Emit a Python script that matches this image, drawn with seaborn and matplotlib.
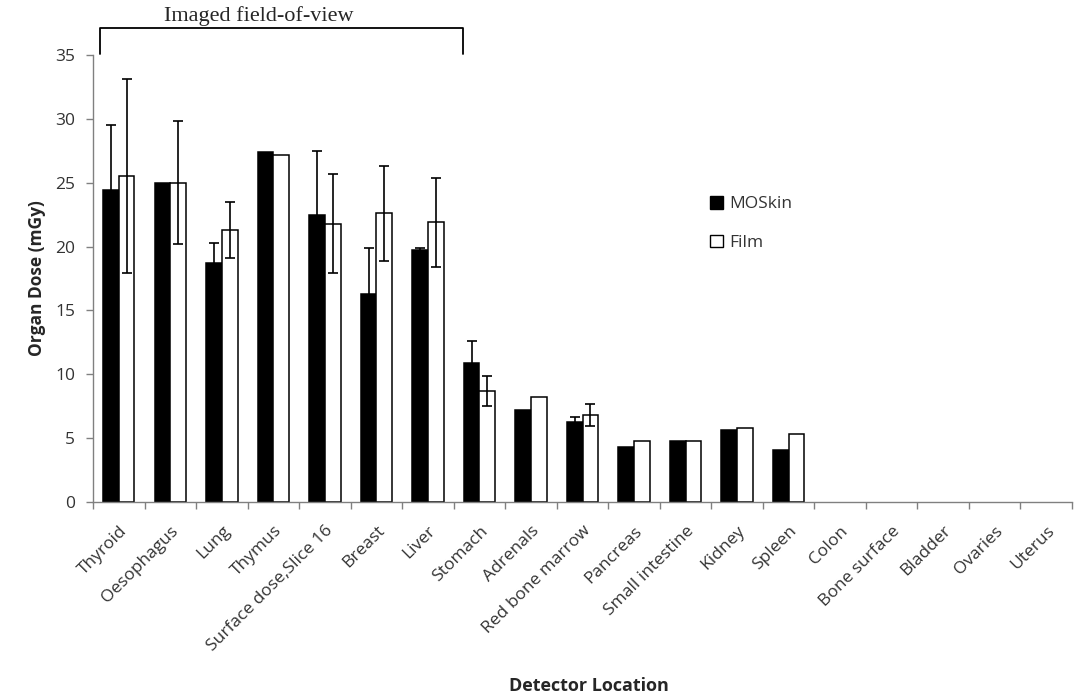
import numpy as np
import pandas as pd
import seaborn as sns
import matplotlib.pyplot as plt
from matplotlib.patches import Patch

organs = [
    "Thyroid", "Oesophagus", "Lung", "Thymus", "Surface dose,Slice 16",
    "Breast", "Liver", "Stomach", "Adrenals", "Red bone marrow", "Pancreas",
    "Small intestine", "Kidney", "Spleen", "Colon", "Bone surface",
    "Bladder", "Ovaries", "Uterus",
]
nan = np.nan
moskin = [24.4, 25.0, 18.7, 27.4, 22.5, 16.3, 19.7, 10.9, 7.2, 6.3, 4.3,
          4.8, 5.6, 4.1, nan, nan, nan, nan, nan]
moskin_err = [5.1, 0, 1.6, 0, 5.0, 3.6, 0.2, 1.7, 0, 0.35, 0,
              0, 0, 0, nan, nan, nan, nan, nan]
film = [25.5, 25.0, 21.3, 27.2, 21.8, 22.6, 21.9, 8.7, 8.2, 6.8, 4.8,
        4.8, 5.8, 5.3, nan, nan, nan, nan, nan]
film_err = [7.6, 4.8, 2.2, 0, 3.9, 3.7, 3.5, 1.2, 0, 0.85, 0,
            0, 0, 0, nan, nan, nan, nan, nan]

df = pd.DataFrame({
    "organ": organs * 2,
    "method": ["MOSkin"] * len(organs) + ["Film"] * len(organs),
    "dose": moskin + film,
})

sns.set_style("white")
plt.rcParams["font.family"] = ["Open Sans", "DejaVu Sans"]
plt.rcParams["xtick.bottom"] = True
plt.rcParams["ytick.left"] = True

fig = plt.figure(figsize=(10.89, 6.98), dpi=100)
ax = fig.add_axes([0.0854, 0.2808, 0.899, 0.6404])

sns.barplot(
    data=df, x="organ", y="dose", hue="method", order=organs,
    hue_order=["MOSkin", "Film"], palette={"MOSkin": "black", "Film": "white"},
    edgecolor="black", linewidth=1.1, width=0.61, errorbar=None,
    legend=False, ax=ax,
)

# error bars, one container per method
errs = {"MOSkin": moskin_err, "Film": film_err}
for cont, name in zip(ax.containers, ["MOSkin", "Film"]):
    for bar in cont:
        h = bar.get_height()
        if np.isnan(h):
            continue
        cx = bar.get_x() + bar.get_width() / 2
        i = int(round(cx))
        e = errs[name][i]
        if not e or np.isnan(e):
            continue
        ax.errorbar(cx, h, yerr=e, color="black", elinewidth=1.2,
                    capsize=3.5, capthick=1.2, fmt="none", zorder=3)

ax.set_ylim(0, 35)
ax.set_xlim(-0.5, len(organs) - 0.5)
ax.set_yticks(range(0, 36, 5))
ax.set_xticks(range(len(organs)))
ax.set_xticks(np.arange(-0.5, len(organs), 1), minor=True)
ax.set_xticklabels(organs, rotation=45, ha="right", rotation_mode="anchor",
                   fontsize=12.5, color="#333333")
ax.tick_params(axis="x", which="major", length=0, pad=15)
ax.tick_params(axis="x", which="minor", bottom=True, length=5,
               color="#808080", width=1)
ax.tick_params(axis="y", left=True, length=5, color="#808080", width=1,
               labelsize=12.5, labelcolor="#333333", pad=8)

for side in ["top", "right"]:
    ax.spines[side].set_visible(False)
for side in ["left", "bottom"]:
    ax.spines[side].set_color("#808080")
    ax.spines[side].set_linewidth(1)

ax.set_ylabel("Organ Dose (mGy)", fontsize=12.5, fontweight="bold")
ax.yaxis.set_label_coords(-0.048, 0.5)
ax.set_xlabel("Detector Location", fontsize=13, fontweight="bold")
ax.xaxis.set_label_coords(0.507, -0.392)

# bracket over the imaged region
ax.plot([-0.36, -0.36, 6.68, 6.68], [35.1, 37.1, 37.1, 35.1], color="black",
        lw=1.3, clip_on=False)
ax.text(2.71, 37.7, "Imaged field-of-view", ha="center", va="baseline",
        fontsize=16, family="Liberation Serif")

handles = [Patch(facecolor="black", edgecolor="black", label="MOSkin"),
           Patch(facecolor="white", edgecolor="black", label="Film")]
ax.legend(handles=handles, loc="upper left", bbox_to_anchor=(0.614, 0.72),
          frameon=False, fontsize=12.5, labelspacing=1.3, handlelength=0.75,
          handleheight=0.75, handletextpad=0.4, labelcolor="#333333")

fig.savefig("out.png", dpi=100)
